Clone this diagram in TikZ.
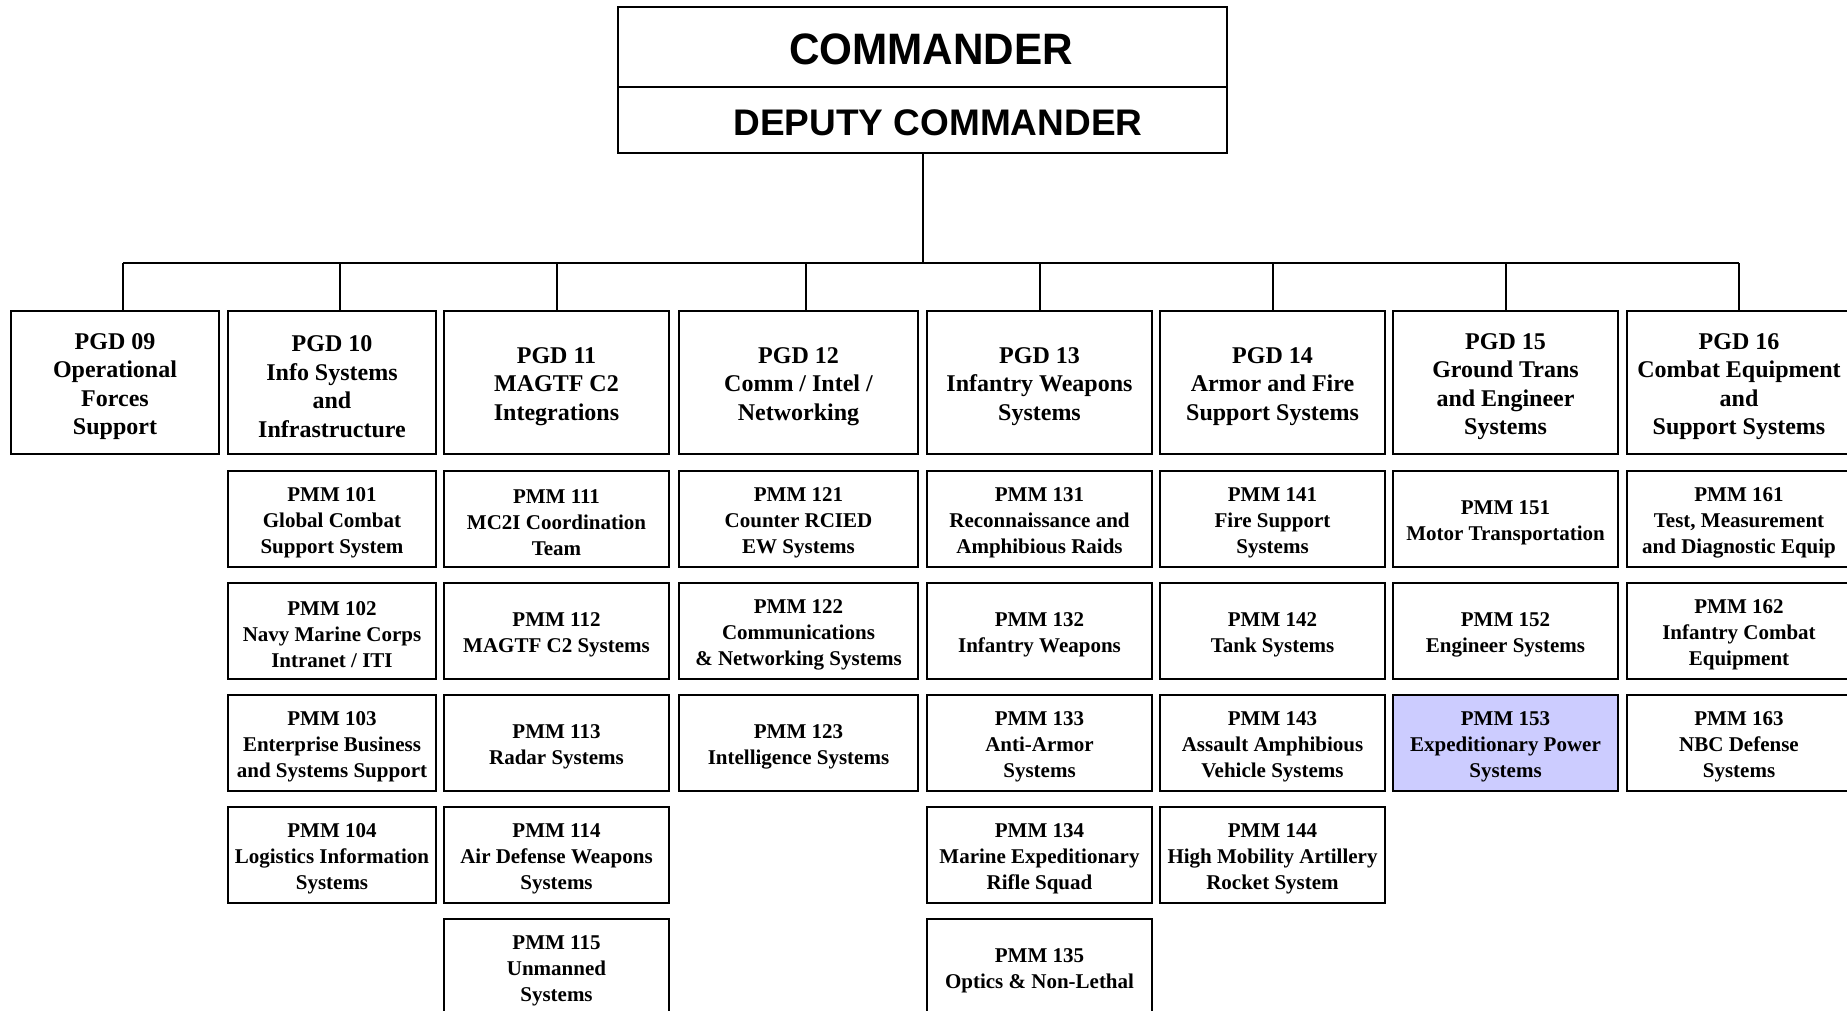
\documentclass[tikz,border=0pt]{standalone}
\usepackage{fontspec}
\setmainfont{Liberation Serif}
\newfontfamily\arialfont{Liberation Sans}
\newcommand\gup{\rule{0pt}{24pt}}
\newcommand\mup{\rule{0pt}{21.5pt}}
\begin{document}
\begin{tikzpicture}[x=1pt,y=-1pt,
  box/.style={draw=black, line width=2.2pt, rectangle, inner sep=0pt, align=center, font=\bfseries},
  pgdbox/.style={box, minimum height=143pt, font=\fontsize{24}{28.5}\selectfont\bfseries},
  pmmbox/.style={box, minimum height=96pt, font=\fontsize{21}{25.8}\selectfont\bfseries},
  topbox/.style={box, minimum width=609pt, font=\arialfont\bfseries},
  wA/.style={minimum width=208pt},
  wB/.style={minimum width=225pt},
  wC/.style={minimum width=239pt},
  link/.style={line width=2pt}
]
\useasboundingbox (0,0) rectangle (1847,1010);
\fill[white] (0,0) rectangle (1847,1010);

% top boxes
\node[topbox, minimum height=80pt] (cmd) at (922.5,47) {\rule{0pt}{36pt}\hspace*{17pt}\fontsize{44}{44}\selectfont\scalebox{0.96}[1]{COMMANDER}};
\node[topbox, minimum height=66pt] (dep) at (922.5,120) {\rule{0pt}{31pt}\hspace*{31pt}\fontsize{37}{37}\selectfont DEPUTY COMMANDER};

% bus coordinates
\coordinate (busc) at (923,263);
\coordinate (b09) at (123,263);
\coordinate (b10) at (340,263);
\coordinate (b11) at (557,263);
\coordinate (b12) at (806,263);
\coordinate (b13) at (1039.5,263);
\coordinate (b14) at (1272.5,263);
\coordinate (b15) at (1505.5,263);
\coordinate (b16) at (1739,263);

% PGD row
\node[pgdbox, wA] (g09) at (115,382.5) {\gup PGD 09\\Operational\\Forces\\Support};
\node[pgdbox, wA] (g10) at (332,382.5) {\gup PGD 10\\Info Systems\\and\\Infrastructure};
\node[pgdbox, wB] (g11) at (556.5,382.5) {\gup PGD 11\\MAGTF C2\\Integrations};
\node[pgdbox, wC] (g12) at (798.5,382.5) {\gup PGD 12\\Comm / Intel /\\Networking};
\node[pgdbox, wB] (g13) at (1039.5,382.5) {\gup PGD 13\\Infantry Weapons\\Systems};
\node[pgdbox, wB] (g14) at (1272.5,382.5) {\gup PGD 14\\Armor and Fire\\Support Systems};
\node[pgdbox, wB] (g15) at (1505.5,382.5) {\gup PGD 15\\Ground Trans\\and Engineer\\Systems};
\node[pgdbox, minimum width=224pt] (g16) at (1739,382.5) {\gup PGD 16\\Combat Equipment\\and\\Support Systems};

% connectors
\draw[link] (dep.south -| busc) -- (busc);
\draw[link] (b09) -- (b16);
\draw[link] (b09) -- (g09.north -| b09);
\draw[link] (b10) -- (g10.north -| b10);
\draw[link] (b11) -- (g11.north -| b11);
\draw[link] (b12) -- (g12.north -| b12);
\draw[link] (b13) -- (g13.north);
\draw[link] (b14) -- (g14.north);
\draw[link] (b15) -- (g15.north);
\draw[link] (b16) -- (g16.north);

% PMM column 10
\node[pmmbox, wA] (p101) at (332,519) {\mup PMM 101\\Global Combat\\Support System};
\node[pmmbox, wA] (p102) at (332,631) {\mup PMM 102\\Navy Marine Corps\\Intranet / ITI};
\node[pmmbox, wA] (p103) at (332,743) {\mup PMM 103\\Enterprise Business\\and Systems Support};
\node[pmmbox, wA] (p104) at (332,855) {\mup PMM 104\\Logistics Information\\Systems};

% column 11
\node[pmmbox, wB] (p111) at (556.5,519) {\mup PMM 111\\MC2I Coordination\\Team};
\node[pmmbox, wB] (p112) at (556.5,631) {\mup PMM 112\\MAGTF C2 Systems};
\node[pmmbox, wB] (p113) at (556.5,743) {\mup PMM 113\\Radar Systems};
\node[pmmbox, wB] (p114) at (556.5,855) {\mup PMM 114\\Air Defense Weapons\\Systems};
\node[pmmbox, wB] (p115) at (556.5,967) {\mup PMM 115\\Unmanned\\Systems};

% column 12
\node[pmmbox, wC] (p121) at (798.5,519) {\mup PMM 121\\Counter RCIED\\EW Systems};
\node[pmmbox, wC] (p122) at (798.5,631) {\mup PMM 122\\Communications\\\& Networking Systems};
\node[pmmbox, wC] (p123) at (798.5,743) {\mup PMM 123\\Intelligence Systems};

% column 13
\node[pmmbox, wB] (p131) at (1039.5,519) {\mup PMM 131\\Reconnaissance and\\Amphibious Raids};
\node[pmmbox, wB] (p132) at (1039.5,631) {\mup PMM 132\\Infantry Weapons};
\node[pmmbox, wB] (p133) at (1039.5,743) {\mup PMM 133\\Anti-Armor\\Systems};
\node[pmmbox, wB] (p134) at (1039.5,855) {\mup PMM 134\\Marine Expeditionary\\Rifle Squad};
\node[pmmbox, wB] (p135) at (1039.5,967) {\mup PMM 135\\Optics \& Non-Lethal};

% column 14
\node[pmmbox, wB] (p141) at (1272.5,519) {\mup PMM 141\\Fire Support\\Systems};
\node[pmmbox, wB] (p142) at (1272.5,631) {\mup PMM 142\\Tank Systems};
\node[pmmbox, wB] (p143) at (1272.5,743) {\mup PMM 143\\Assault Amphibious\\Vehicle Systems};
\node[pmmbox, wB] (p144) at (1272.5,855) {\mup PMM 144\\High Mobility Artillery\\Rocket System};

% column 15
\node[pmmbox, wB] (p151) at (1505.5,519) {\mup PMM 151\\Motor Transportation};
\node[pmmbox, wB] (p152) at (1505.5,631) {\mup PMM 152\\Engineer Systems};
\node[pmmbox, wB, fill={rgb,255:red,204;green,204;blue,255}] (p153) at (1505.5,743) {\mup PMM 153\\Expeditionary Power\\Systems};

% column 16
\node[pmmbox, minimum width=224pt] (p161) at (1739,519) {\mup PMM 161\\Test, Measurement\\and Diagnostic Equip};
\node[pmmbox, minimum width=224pt] (p162) at (1739,631) {\mup PMM 162\\Infantry Combat\\Equipment};
\node[pmmbox, minimum width=224pt] (p163) at (1739,743) {\mup PMM 163\\NBC Defense\\Systems};
\end{tikzpicture}
\end{document}
